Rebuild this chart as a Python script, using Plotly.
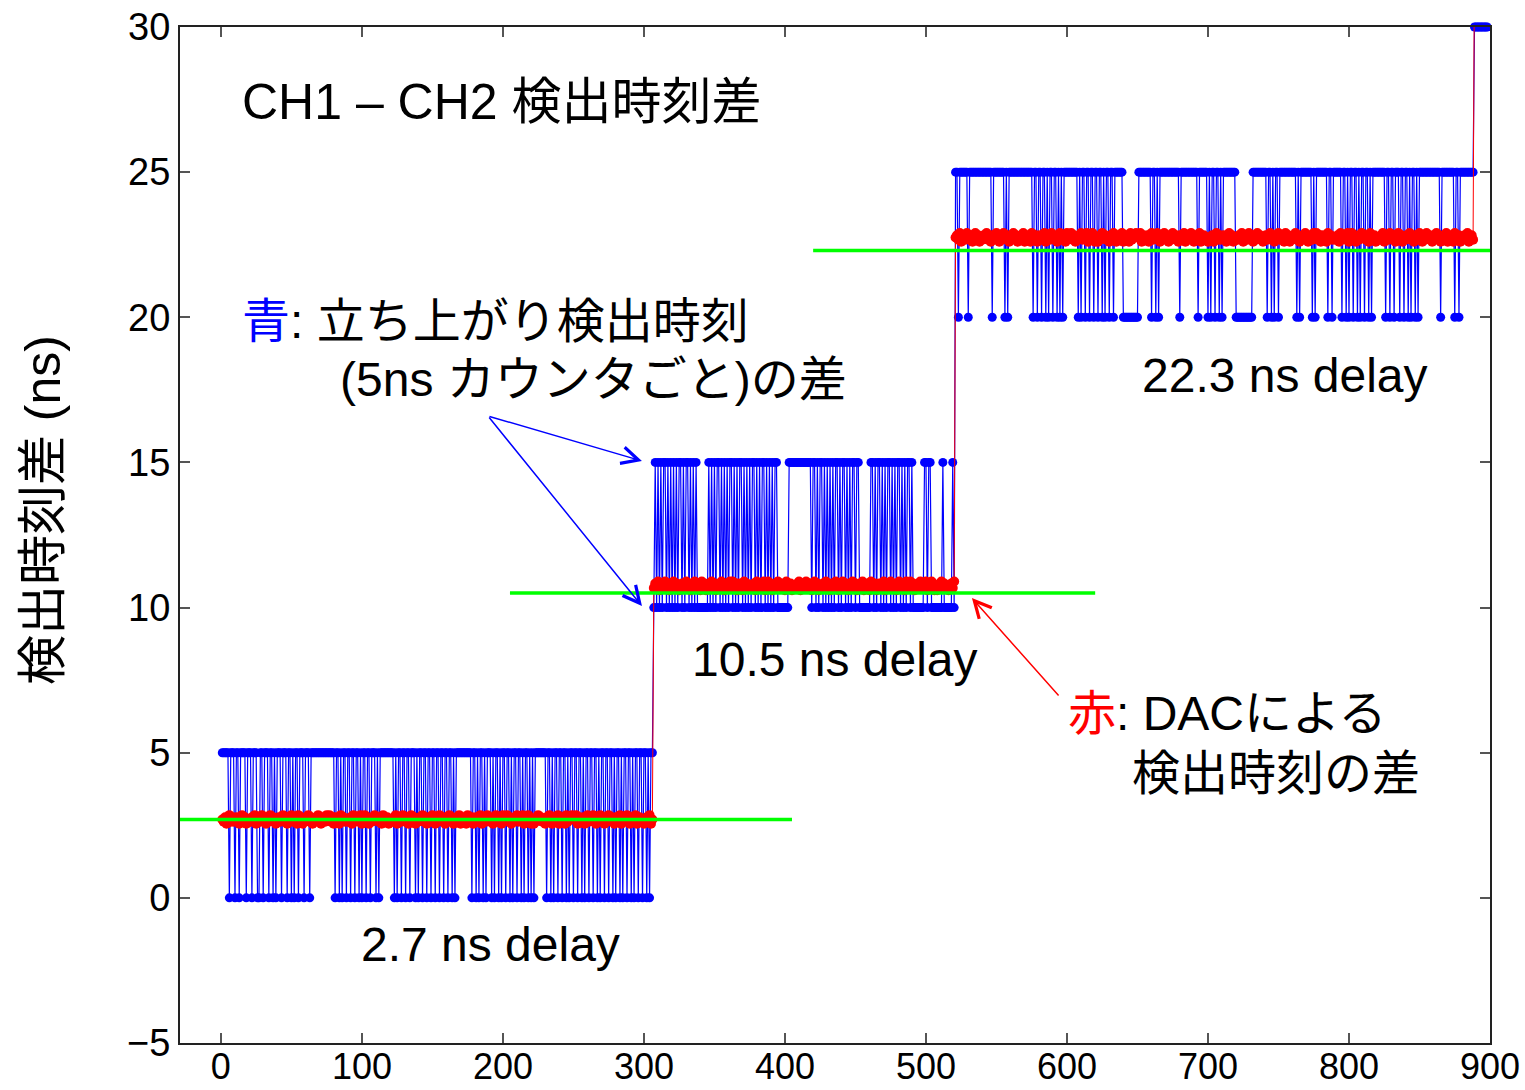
import plotly.graph_objects as go

FONT = "Liberation Sans, Noto Sans CJK JP, sans-serif"

# ---- data ----
x_ticks = [0, 100, 200, 300, 400, 500, 600, 700, 800, 900]
y_ticks = [-5, 0, 5, 10, 15, 20, 25, 30]

seg_start = [1, 307, 521]          # first sample number of each delay setting
blue_high = [5, 15, 25]            # counter-based difference: upper level (ns)
blue_low = [0, 10, 20]             # counter-based difference: lower level (ns)

# '1' = upper level, '0' = lower level, one char per sample
blue_seg1 = "".join([
    "1111101110", "1101111011", "1011100110", "1110110101", "1101110110",
    "1011011101", "1101111111", "1111111111", "0110101101", "1011011010",
    "1101101110", "1011111111", "1101011011", "0110111010", "1101101101",
    "1011011011", "0110101111", "1111111011", "0101101011", "1010110101",
    "1011010110", "1101011010", "1011111111", "0110101101", "1011010110",
    "1101101011", "0110110101", "1011011010", "1101011011", "0101101101",
    "101011"])
blue_seg2 = "".join([
    "0101010110", "1010101011", "0101101010", "1000000001", "0101011010",
    "1010110101", "0110101010", "1101010110", "1010101100", "0000001111",
    "1111111111", "1101101011", "0101010101", "1010110101", "0110110000",
    "0000110101", "1010101101", "0101101010", "1101000000", "0011011000",
    "0000010000", "0010"])
blue_seg3 = "".join([
    "1101111110", "1111111111", "1111110111", "1111101011", "1111111111",
    "1111101101", "1011010110", "1101010111", "1111111010", "1101101101",
    "1011010110", "1101111110", "0000000000", "1111111110", "1101011111",
    "1111111110", "1111111111", "1101111110", "1011011010", "1111111110",
    "0000000000", "0111111111", "1011010110", "1111111111", "1101011111",
    "1110101111", "1111011011", "1111011010", "1101101011", "0110101111",
    "1111101101", "1011101101", "1010110101", "1111111111", "1111011111",
    "1111011011", "11111111"])

# DAC-based difference: value = red_base + red_step * digit
red_base = [2.40, 10.45, 22.45]
red_step = 0.075
red_seg1 = "".join([
    "4352463534", "5424635243", "3546245364", "4253645324", "5346342546",
    "3452645234", "4635243564", "2453646352", "5342645343", "4526345362",
    "3645243564", "5342634524", "4356245364", "3524635243", "5463425346",
    "4253645325", "3645234562", "4352643524", "5346245364", "3425634526",
    "4563524356", "3546243652", "4235645342", "5364253462", "3452634564",
    "4625345236", "3546425364", "5243645325", "4362534652", "3546245342",
    "453624"])
red_seg2 = "".join([
    "3546245364", "4253645324", "5346342546", "3452645234", "4635243564",
    "2453646352", "5342645343", "4526345362", "3645243564", "5342634524",
    "4356245364", "3524635243", "5463425346", "4253645325", "3645234562",
    "4352643524", "5346245364", "3425634526", "4563524356", "3546243652",
    "4235645342", "4536"])
red_seg3 = "".join([
    "4536245364", "3524635243", "5463425346", "4253645325", "3645234562", "4352643524",
    "5346245364", "3425634526", "4563524356", "3546243652", "4235645342", "5364253462",
    "3452634564", "4625345236", "3546425364", "5243645325", "4362534652", "3546245342",
    "4352463534", "5424635243", "3546245364", "4253645324", "5346342546", "3452645234",
    "4635243564", "2453646352", "5342645343", "4526345362", "3645243564", "5342634524",
    "4356245364", "3524635243", "5463425346", "4253645325", "3645234562", "4352643524",
    "45362453"])

tail_start = 889
blue_tail = [30, 30, 30, 30, 30, 30, 30, 30, 30, 30]
red_tail = [32.6, 32.8, 32.5, 32.7, 32.9, 32.6, 32.7, 32.8, 32.5, 32.7]

green_level = [2.7, 10.5, 22.3]
green_x0 = [-29, 205, 420]
green_x1 = [405, 620, 900]

# ---- build series ----
blue_segs = [blue_seg1, blue_seg2, blue_seg3]
red_segs = [red_seg1, red_seg2, red_seg3]
xs, blue_y, red_y = [], [], []
for s, bstr, rstr, hi, lo, rb in zip(seg_start, blue_segs, red_segs,
                                      blue_high, blue_low, red_base):
    for i, (bc, rc) in enumerate(zip(bstr, rstr)):
        xs.append(s + i)
        blue_y.append(hi if bc == "1" else lo)
        red_y.append(round(rb + red_step * int(rc), 3))
for i, (bv, rv) in enumerate(zip(blue_tail, red_tail)):
    xs.append(tail_start + i)
    blue_y.append(bv)
    red_y.append(rv)

fig = go.Figure()
fig.add_trace(go.Scatter(
    x=xs, y=blue_y, mode="lines+markers",
    line=dict(color="#0000FF", width=1.2),
    marker=dict(color="#0000FF", size=9),
    cliponaxis=False, hoverinfo="skip"))
fig.add_trace(go.Scatter(
    x=xs, y=red_y, mode="lines+markers",
    line=dict(color="#FF0000", width=1),
    marker=dict(color="#FF0000", size=10),
    cliponaxis=True, hoverinfo="skip"))
for lvl, x0, x1 in zip(green_level, green_x0, green_x1):
    fig.add_trace(go.Scatter(
        x=[x0, x1], y=[lvl, lvl], mode="lines",
        line=dict(color="#00FF00", width=3.5), hoverinfo="skip"))

TXT = 48
ann = [
    dict(x=13.5, y=27.4, text="CH1 – CH2 検出時刻差", xanchor="left", size=50),
    dict(x=13.5, y=19.85, text="<span style='color:#0000FF'>青</span>: 立ち上がり検出時刻",
         xanchor="left", size=TXT),
    dict(x=83, y=17.85, text="(5ns カウンタごと)の差", xanchor="left", size=TXT),
    dict(x=191.5, y=-1.6, text="2.7 ns delay", xanchor="center", size=TXT),
    dict(x=435.5, y=8.2, text="10.5 ns delay", xanchor="center", size=TXT),
    dict(x=754.6, y=18.0, text="22.3 ns delay", xanchor="center", size=TXT),
    dict(x=599.3, y=6.35, text="<span style='color:#FF0000'>赤</span>: DACによる",
         xanchor="left", size=TXT),
    dict(x=644.7, y=4.3, text="検出時刻の差", xanchor="left", size=TXT),
]
annotations = []
for a in ann:
    annotations.append(dict(
        x=a["x"], y=a["y"], xref="x", yref="y", text=a["text"],
        xanchor=a["xanchor"], yanchor="middle", showarrow=False,
        font=dict(family=FONT, size=a["size"], color="black")))

arrows = [
    (298.6, 15.05, 189.4, 16.6, "#0000FF"),
    (298.6, 10.05, 189.4, 16.6, "#0000FF"),
    (532.6, 10.33, 595.0, 6.92, "#FF0000"),
]
for hx, hy, tx, ty, col in arrows:
    annotations.append(dict(
        x=hx, y=hy, xref="x", yref="y", ax=tx, ay=ty, axref="x", ayref="y",
        text="", showarrow=True, arrowhead=5, arrowsize=2.2, arrowwidth=1.5,
        arrowcolor=col, standoff=0, startstandoff=0))

annotations.append(dict(
    x=-0.105, y=0.525, xref="paper", yref="paper", text="検出時刻差 (ns)",
    textangle=-90, showarrow=False, xanchor="center", yanchor="middle",
    font=dict(family=FONT, size=50, color="black")))

axis_common = dict(
    showgrid=False, zeroline=False, showline=True, linecolor="#222", linewidth=2,
    mirror="ticks", ticks="inside", ticklen=10, tickwidth=1.5, tickcolor="#555",
    automargin=False, ticklabeloverflow="allow")

fig.update_layout(
    width=1525, height=1090,
    margin=dict(l=180, r=35, t=27, b=47),
    plot_bgcolor="white", paper_bgcolor="white",
    showlegend=False,
    font=dict(family=FONT, color="black"),
    xaxis=dict(range=[-29, 900], tickvals=x_ticks, ticklabelstandoff=-9,
               tickfont=dict(family=FONT, size=36, color="black"), **axis_common),
    yaxis=dict(range=[-5, 30], tickvals=y_ticks,
               tickfont=dict(family=FONT, size=38, color="black"), **axis_common),
    annotations=annotations,
)

fig.write_html("out.html", config={"displayModeBar": False})

# remove the browser's default 8px page margin so the figure sits at the window origin
with open("out.html", "r", encoding="utf-8") as f:
    html = f.read()
html = html.replace("<body>", "<body style=\"margin:0;overflow:hidden\">", 1)
with open("out.html", "w", encoding="utf-8") as f:
    f.write(html)
